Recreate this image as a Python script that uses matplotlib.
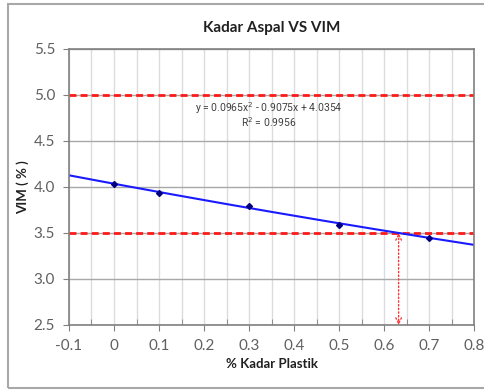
import numpy as np
import matplotlib.pyplot as plt
from matplotlib.patches import Rectangle, FancyArrowPatch

# Measured VIM against plastic content
kadar_plastik = [0.0, 0.1, 0.3, 0.5, 0.7]
vim = [4.03, 3.94, 3.79, 3.59, 3.45]

# Polynomial trendline coefficients (a*x^2 + b*x + c) and R^2
coef = [0.0965, -0.9075, 4.0354]
r2 = 0.9956

# Specification limits for VIM
vim_min = 3.5
vim_max = 5.0

GRID_COLOR = '#dcdcdc'
AXIS_COLOR = '#808080'
TEXT_COLOR = '#606060'

plt.rcParams['font.family'] = ['Lato', 'DejaVu Sans']

fig = plt.figure(figsize=(4.85, 3.92), dpi=100, facecolor='white')
ax = fig.add_axes([69 / 485, 1 - 325 / 392, (474 - 69) / 485, (325 - 49) / 392])

# chart frame
fig.patches.append(Rectangle((8 / 485, 4 / 392), 1.2, 384 / 392, transform=fig.transFigure,
                             fill=False, edgecolor='#a8a8a8', linewidth=1.5))

ax.set_xlim(-0.1, 0.8)
ax.set_ylim(2.5, 5.5)
ax.set_xticks(np.arange(-0.1, 0.81, 0.1))
ax.set_xticks(np.arange(-0.05, 0.8, 0.1), minor=True)
ax.set_yticks(np.arange(2.5, 5.51, 0.5))
ax.set_xticklabels(['-0.1', '0', '0.1', '0.2', '0.3', '0.4', '0.5', '0.6', '0.7', '0.8'])
ax.set_yticklabels(['2.5', '3.0', '3.5', '4.0', '4.5', '5.0', '5.5'])

ax.grid(True, which='major', axis='y', color='#a8a8a8', linewidth=1)
ax.grid(True, which='both', axis='x', color=GRID_COLOR, linewidth=1)
ax.set_axisbelow(True)

for side in ['left', 'right', 'top', 'bottom']:
    ax.spines[side].set_color(AXIS_COLOR)
    ax.spines[side].set_linewidth(1.2)
ax.tick_params(axis='both', which='both', colors=AXIS_COLOR, labelcolor=TEXT_COLOR, labelsize=11)
ax.tick_params(axis='x', which='major', direction='out', length=4, pad=6)
ax.tick_params(axis='x', which='minor', direction='in', length=4)
ax.tick_params(axis='y', which='major', direction='out', length=4, pad=6)

# spec lines
ax.axhline(vim_max, color='#ff1a1a', linestyle=(0, (2.5, 1.5)), linewidth=2)
ax.axhline(vim_min, color='#ff1a1a', linestyle=(0, (2.5, 1.5)), linewidth=2)

# trendline
xs = np.linspace(-0.1, 0.8, 200)
ax.plot(xs, np.polyval(coef, xs), color='#1a1aff', linewidth=1.5)
ax.plot(kadar_plastik, vim, linestyle='none', marker='D', markersize=3, color='#000080')

# intersection of trendline with the lower limit
roots = np.roots([coef[0], coef[1], coef[2] - vim_min])
x_cross = float(min(r.real for r in roots if -0.1 <= r.real <= 0.8))
ax.add_patch(FancyArrowPatch((x_cross, vim_min), (x_cross, 2.5), arrowstyle='<->', mutation_scale=10,
                             color='#ff3333', linestyle=':', linewidth=1, shrinkA=0, shrinkB=0))

ax.text(0.345, 4.86, 'y = {:.4f}x$^2$ - {:.4f}x + {:.4f}'.format(coef[0], -coef[1], coef[2]),
        ha='center', va='center', fontsize=7.5, color='#404040', family=['Roboto', 'DejaVu Sans'],
        fontstretch='condensed')
ax.text(0.345, 4.70, 'R$^2$ = {:.4f}'.format(r2),
        ha='center', va='center', fontsize=7.5, color='#404040', family=['Roboto', 'DejaVu Sans'])

ax.set_title('Kadar Aspal VS VIM', fontsize=11, fontweight='bold', color='#202020', pad=12)
ax.set_xlabel('% Kadar Plastik', fontsize=9.5, fontweight='bold', color='#202020', labelpad=4)
ax.set_ylabel('VIM ( % )', fontsize=9.5, fontweight='bold', color='#202020', labelpad=3)

fig.savefig('out.png', dpi=100, facecolor='white')
